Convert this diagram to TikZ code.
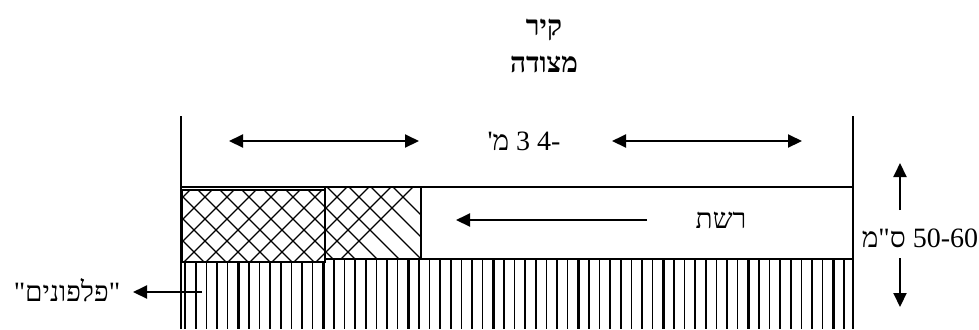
\documentclass[tikz,border=0pt]{standalone}
\usepackage{fontspec}
\setmainfont{Liberation Serif}
\newfontfamily\hebfont[Script=Hebrew]{Liberation Serif}
\TeXXeTstate=1
\usetikzlibrary{positioning,arrows.meta}

\begin{document}
\begin{tikzpicture}[x=0.5pt,y=-0.5pt,
  lbl/.style={font=\hebfont\fontsize{14}{16}\selectfont, inner sep=0pt},
  ttl/.style={font=\hebfont\bfseries\fontsize{14}{16}\selectfont, inner sep=0pt},
  wall/.style={line width=1.2pt},
  band/.style={line width=1pt},
  hatch/.style={line width=0.75pt},
  xhatch/.style={line width=0.65pt},
  arr/.style={line width=1pt, -{Triangle[length=7pt,width=6.5pt]}},
  dim/.style={line width=1pt, {Triangle[length=7pt,width=6.5pt]}-{Triangle[length=7pt,width=6.5pt]}}]
\useasboundingbox (0,0) rectangle (979,329);

% title
\node[ttl] (kir) at (544,30) {\beginR קיר\endR};
\node[ttl, below=7pt of kir] (metzuda) {\beginR מצודה\endR};

% vertical hatching ("pilpulim")
\foreach \k in {0,...,62}{
  \pgfmathsetmacro{\hx}{185.2+10.625*\k}
  \pgfmathtruncatemacro{\hm}{mod(\k,8)}
  \ifnum\hm=5
    \draw[hatch, line width=1.2pt] (\hx,259) -- (\hx,329);
  \else
    \draw[hatch] (\hx,259) -- (\hx,329);
  \fi
}

% walls and net band
\coordinate (wlt) at (181,116);
\coordinate (wlb) at (181,329);
\coordinate (wrt) at (853,116);
\coordinate (wrb) at (853,329);
\draw[wall] (wlt) -- (wlb);
\draw[wall] (wrt) -- (wrb);
\draw[band] (181,187) rectangle (853,259);

% net rolls
\fill[white] (325,187) rectangle (421,259);
\begin{scope}
  \clip (325,187) rectangle (421,259);
  \foreach \c in {-36,...,10}{
    \draw[xhatch] ({22*\c+380-150},150) -- ({22*\c+380-300},300);
    \draw[xhatch] ({22*\c-14+150},150) -- ({22*\c-14+300},300);
  }
\end{scope}
\draw[band] (325,187) rectangle (421,259);
\fill[white] (181,190) rectangle (325,262);
\begin{scope}
  \clip (181,190) rectangle (325,262);
  \foreach \c in {-36,...,10}{
    \draw[xhatch] ({22*\c+380-150},150) -- ({22*\c+380-300},300);
    \draw[xhatch] ({22*\c-14+150},150) -- ({22*\c-14+300},300);
  }
\end{scope}
\draw[line width=1.3pt] (182,190) rectangle (325,262);

% length between walls
\node[lbl] (len) at (524,141) {\beginR\hbox{-4} 3 \hbox{מ}\hbox{'}\endR};
\coordinate (lenA) at (229,141);
\coordinate (lenB) at (419,141);
\coordinate (lenC) at (612,141);
\coordinate (lenD) at (802,141);
\draw[dim] (lenA) -- (lenB);
\draw[dim] (lenC) -- (lenD);

% net direction
\node[lbl] (net) at (721,220) {\beginR רשת\endR};
\coordinate (netT) at (647,220);
\coordinate (netH) at (456,220);
\draw[arr] (netT) -- (netH);

% band height
\node[lbl] (hgt) at (920,238) {\beginR\hbox{50-60} \hbox{ס"מ}\endR};
\coordinate (hgtA) at (900,210);
\coordinate (hgtB) at (900,163);
\coordinate (hgtC) at (900,258);
\coordinate (hgtD) at (900,307);
\draw[arr] (hgtA) -- (hgtB);
\draw[arr] (hgtC) -- (hgtD);

% pilpulim
\node[lbl] (pil) at (67,290) {\beginR "פלפונים"\endR};
\coordinate (pilT) at (202,292);
\coordinate (pilH) at (133,292);
\draw[arr] (pilT) -- (pilH);
\end{tikzpicture}
\end{document}
